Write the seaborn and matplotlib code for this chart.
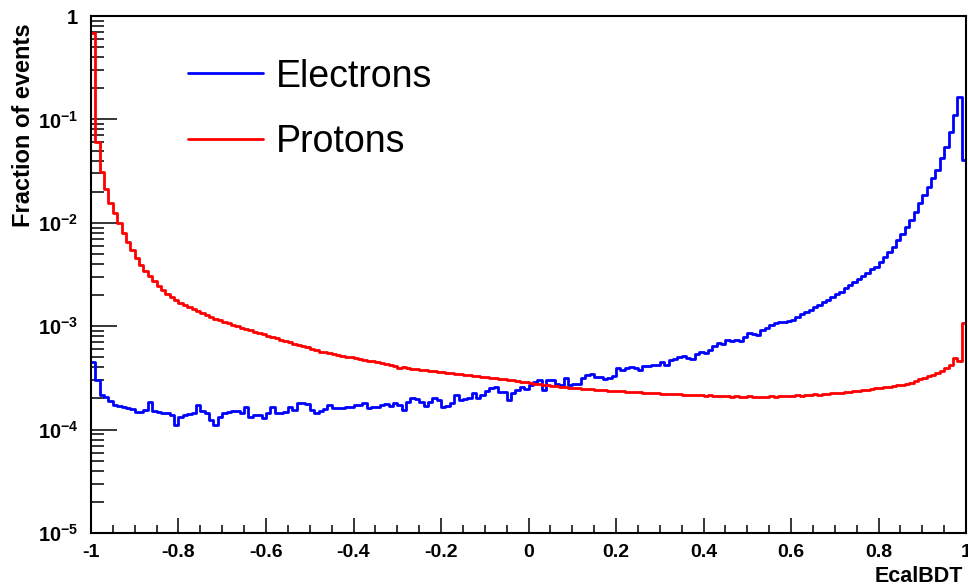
import matplotlib
matplotlib.use("Agg")
import matplotlib.pyplot as plt
import numpy as np
import pandas as pd
import seaborn as sns
from matplotlib.lines import Line2D
from matplotlib.ticker import FuncFormatter, LogLocator, NullFormatter, MultipleLocator

# 200 bins of EcalBDT in [-1, 1]
N_BINS = 200
X_MIN, X_MAX = -1.0, 1.0

electrons = [
    4.5e-4, 3.0e-4, 2.16e-4, 2.07e-4, 1.89e-4, 1.73e-4, 1.69e-4, 1.66e-4, 1.62e-4, 1.58e-4,
    1.48e-4, 1.48e-4, 1.55e-4, 1.85e-4, 1.51e-4, 1.48e-4, 1.45e-4, 1.45e-4, 1.38e-4, 1.11e-4,
    1.32e-4, 1.38e-4, 1.42e-4, 1.45e-4, 1.73e-4, 1.51e-4, 1.45e-4, 1.24e-4, 1.11e-4, 1.32e-4,
    1.45e-4, 1.48e-4, 1.51e-4, 1.51e-4, 1.45e-4, 1.66e-4, 1.32e-4, 1.38e-4, 1.38e-4, 1.29e-4,
    1.45e-4, 1.66e-4, 1.45e-4, 1.45e-4, 1.48e-4, 1.66e-4, 1.55e-4, 1.81e-4, 1.81e-4, 1.77e-4,
    1.55e-4, 1.45e-4, 1.51e-4, 1.58e-4, 1.73e-4, 1.62e-4, 1.62e-4, 1.62e-4, 1.66e-4, 1.66e-4,
    1.73e-4, 1.73e-4, 1.81e-4, 1.62e-4, 1.66e-4, 1.66e-4, 1.73e-4, 1.77e-4, 1.69e-4, 1.81e-4,
    1.73e-4, 1.55e-4, 1.85e-4, 2.02e-4, 1.97e-4, 1.85e-4, 1.69e-4, 1.85e-4, 2.02e-4, 1.93e-4,
    1.66e-4, 1.69e-4, 1.81e-4, 2.16e-4, 1.93e-4, 1.97e-4, 2.02e-4, 2.26e-4, 2.02e-4, 2.16e-4,
    2.36e-4, 2.52e-4, 2.58e-4, 2.31e-4, 2.31e-4, 1.93e-4, 2.26e-4, 2.42e-4, 2.58e-4, 2.47e-4,
    2.7e-4, 2.9e-4, 3.0e-4, 2.42e-4, 3.0e-4, 3.0e-4, 2.76e-4, 2.7e-4, 3.15e-4, 2.7e-4,
    2.76e-4, 2.76e-4, 3.15e-4, 3.37e-4, 3.45e-4, 3.23e-4, 3.23e-4, 3.08e-4, 3.15e-4, 3.3e-4,
    3.94e-4, 3.77e-4, 3.94e-4, 4.0e-4, 3.94e-4, 3.77e-4, 4.1e-4, 4.1e-4, 4.2e-4, 4.2e-4,
    4.5e-4, 4.2e-4, 4.7e-4, 4.8e-4, 5.0e-4, 5.15e-4, 4.9e-4, 4.8e-4, 5.4e-4, 5.6e-4,
    5.5e-4, 5.9e-4, 6.4e-4, 6.85e-4, 6.7e-4, 7.4e-4, 7.2e-4, 7.4e-4, 7.2e-4, 7.85e-4,
    8.6e-4, 8.4e-4, 8.2e-4, 9.2e-4, 9.6e-4, 1.03e-3, 1.07e-3, 1.1e-3, 1.1e-3, 1.12e-3,
    1.15e-3, 1.23e-3, 1.31e-3, 1.37e-3, 1.43e-3, 1.53e-3, 1.6e-3, 1.71e-3, 1.79e-3, 1.92e-3,
    2.05e-3, 2.14e-3, 2.34e-3, 2.5e-3, 2.68e-3, 2.86e-3, 3.06e-3, 3.27e-3, 3.57e-3, 3.74e-3,
    4.18e-3, 4.67e-3, 5.22e-3, 5.83e-3, 6.82e-3, 7.79e-3, 9.1e-3, 1.064e-2, 1.272e-2, 1.554e-2,
    1.857e-2, 2.22e-2, 2.71e-2, 3.24e-2, 4.23e-2, 5.41e-2, 7.55e-2, 0.110, 0.165, 0.0405,
]

protons = [
    0.68, 0.060, 0.031, 0.021, 0.0155, 0.0124, 0.0099, 0.0079, 0.0065, 0.0054,
    0.0046, 0.0039, 0.0034, 0.00305, 0.00274, 0.00245, 0.00224, 0.00205, 0.00192, 0.00179,
    0.00168, 0.00161, 0.00154, 0.00147, 0.00140, 0.00134, 0.00128, 0.00123, 0.00117, 0.00115,
    0.00110, 0.00107, 0.00103, 0.00101, 9.6e-4, 9.4e-4, 9.2e-4, 8.8e-4, 8.6e-4, 8.4e-4,
    8.0e-4, 7.85e-4, 7.7e-4, 7.4e-4, 7.2e-4, 7.0e-4, 6.7e-4, 6.55e-4, 6.4e-4, 6.3e-4,
    6.0e-4, 5.9e-4, 5.6e-4, 5.6e-4, 5.5e-4, 5.4e-4, 5.3e-4, 5.15e-4, 5.0e-4, 5.0e-4,
    4.9e-4, 4.8e-4, 4.7e-4, 4.6e-4, 4.6e-4, 4.5e-4, 4.4e-4, 4.3e-4, 4.2e-4, 4.1e-4,
    3.94e-4, 4.0e-4, 3.94e-4, 3.85e-4, 3.85e-4, 3.77e-4, 3.77e-4, 3.68e-4, 3.68e-4, 3.6e-4,
    3.6e-4, 3.52e-4, 3.52e-4, 3.45e-4, 3.45e-4, 3.37e-4, 3.37e-4, 3.3e-4, 3.3e-4, 3.23e-4,
    3.23e-4, 3.15e-4, 3.15e-4, 3.08e-4, 3.08e-4, 3.0e-4, 3.0e-4, 2.95e-4, 2.9e-4, 2.9e-4,
    2.83e-4, 2.76e-4, 2.76e-4, 2.7e-4, 2.7e-4, 2.64e-4, 2.64e-4, 2.58e-4, 2.58e-4, 2.52e-4,
    2.52e-4, 2.52e-4, 2.47e-4, 2.47e-4, 2.47e-4, 2.42e-4, 2.42e-4, 2.42e-4, 2.36e-4, 2.36e-4,
    2.36e-4, 2.36e-4, 2.31e-4, 2.31e-4, 2.31e-4, 2.31e-4, 2.26e-4, 2.26e-4, 2.26e-4, 2.26e-4,
    2.21e-4, 2.21e-4, 2.21e-4, 2.21e-4, 2.21e-4, 2.16e-4, 2.16e-4, 2.16e-4, 2.16e-4, 2.16e-4,
    2.11e-4, 2.16e-4, 2.11e-4, 2.11e-4, 2.11e-4, 2.11e-4, 2.07e-4, 2.11e-4, 2.07e-4, 2.07e-4,
    2.11e-4, 2.07e-4, 2.07e-4, 2.07e-4, 2.07e-4, 2.11e-4, 2.07e-4, 2.11e-4, 2.11e-4, 2.11e-4,
    2.11e-4, 2.16e-4, 2.11e-4, 2.16e-4, 2.16e-4, 2.21e-4, 2.16e-4, 2.21e-4, 2.21e-4, 2.26e-4,
    2.26e-4, 2.26e-4, 2.31e-4, 2.31e-4, 2.36e-4, 2.36e-4, 2.42e-4, 2.42e-4, 2.47e-4, 2.52e-4,
    2.52e-4, 2.58e-4, 2.58e-4, 2.64e-4, 2.7e-4, 2.7e-4, 2.76e-4, 2.83e-4, 2.95e-4, 3.08e-4,
    3.15e-4, 3.3e-4, 3.37e-4, 3.52e-4, 3.68e-4, 3.94e-4, 4.2e-4, 4.9e-4, 4.6e-4, 1.07e-3,
]

labels = ["Electrons", "Protons"]
colors = ["#0000ff", "#ff0000"]
x_ticks = [-1, -0.8, -0.6, -0.4, -0.2, 0, 0.2, 0.4, 0.6, 0.8, 1]
x_tick_labels = ["-1", "-0.8", "-0.6", "-0.4", "-0.2", "0", "0.2", "0.4", "0.6", "0.8", "1"]


def y_label_fmt(v, pos):
    exp = int(round(np.log10(v)))
    if exp == 0:
        return r"$\mathbf{1}$"
    return r"$\mathbf{10^{%d}}$" % exp


def main() -> None:
    sns.set_style("white")
    plt.rcParams["font.family"] = ["Liberation Sans", "DejaVu Sans"]
    plt.rcParams["mathtext.fontset"] = "custom"
    plt.rcParams["mathtext.rm"] = "Liberation Sans"
    plt.rcParams["mathtext.bf"] = "Liberation Sans:bold"
    plt.rcParams["axes.unicode_minus"] = False
    plt.rcParams["text.color"] = "black"
    plt.rcParams["axes.labelcolor"] = "black"
    plt.rcParams["xtick.color"] = "black"
    plt.rcParams["ytick.color"] = "black"

    edges = np.linspace(X_MIN, X_MAX, N_BINS + 1)
    centers = 0.5 * (edges[:-1] + edges[1:])
    df = pd.DataFrame({
        "EcalBDT": np.concatenate([centers, centers]),
        "fraction": np.concatenate([electrons, protons]),
        "particle": [labels[0]] * N_BINS + [labels[1]] * N_BINS,
    })

    fig = plt.figure(figsize=(9.68, 5.87), dpi=100)
    ax = fig.add_axes([91 / 968, 1 - 533 / 587, 875 / 968, 517 / 587])

    for name, color in zip(labels, colors):
        sns.histplot(
            data=df[df["particle"] == name], x="EcalBDT", weights="fraction",
            bins=N_BINS, binrange=(X_MIN, X_MAX), element="step", fill=False,
            color=color, linewidth=2.0, ax=ax,
        )

    ax.set_yscale("log")
    ax.set_xlim(X_MIN, X_MAX)
    ax.set_ylim(1e-5, 1)

    ax.set_xticks(x_ticks, x_tick_labels)
    ax.xaxis.set_minor_locator(MultipleLocator(0.05))
    ax.yaxis.set_major_locator(LogLocator(base=10, numticks=10))
    ax.yaxis.set_minor_locator(LogLocator(base=10, subs=np.arange(2, 10), numticks=20))
    ax.yaxis.set_major_formatter(FuncFormatter(y_label_fmt))
    ax.yaxis.set_minor_formatter(NullFormatter())

    for lbl in ax.get_xticklabels():
        lbl.set_fontweight("bold")
    ax.tick_params(axis="both", which="both", direction="in", color="black", width=1.1,
                   labelcolor="black", top=False, right=False, left=True, bottom=True)
    ax.tick_params(axis="x", which="major", length=11, pad=8, labelsize=14)
    ax.tick_params(axis="x", which="minor", length=6)
    ax.tick_params(axis="y", which="major", length=19, pad=9, labelsize=14.5)
    ax.tick_params(axis="y", which="minor", length=9.5)
    for sp in ax.spines.values():
        sp.set_visible(True)
        sp.set_color("black")
        sp.set_linewidth(1.5)

    ax.set_xlabel("EcalBDT", fontsize=15.5, fontweight="bold", loc="right")
    ax.set_ylabel("Fraction of events", fontsize=17, fontweight="bold", loc="top")
    ax.xaxis.set_label_coords(0.9965, -0.064)
    ax.yaxis.set_label_coords(-0.064, 0.986)

    handles = [Line2D([], [], color=c, linewidth=2.0) for c in colors]
    ax.legend(handles, labels, loc="upper left", bbox_to_anchor=(0.072, 0.983),
              frameon=False, fontsize=27, handlelength=2.0, handletextpad=0.35,
              labelspacing=0.79, borderpad=0.4, labelcolor="black")

    fig.savefig("out.png", dpi=100, facecolor="white")
    plt.close(fig)


if __name__ == "__main__":
    main()
